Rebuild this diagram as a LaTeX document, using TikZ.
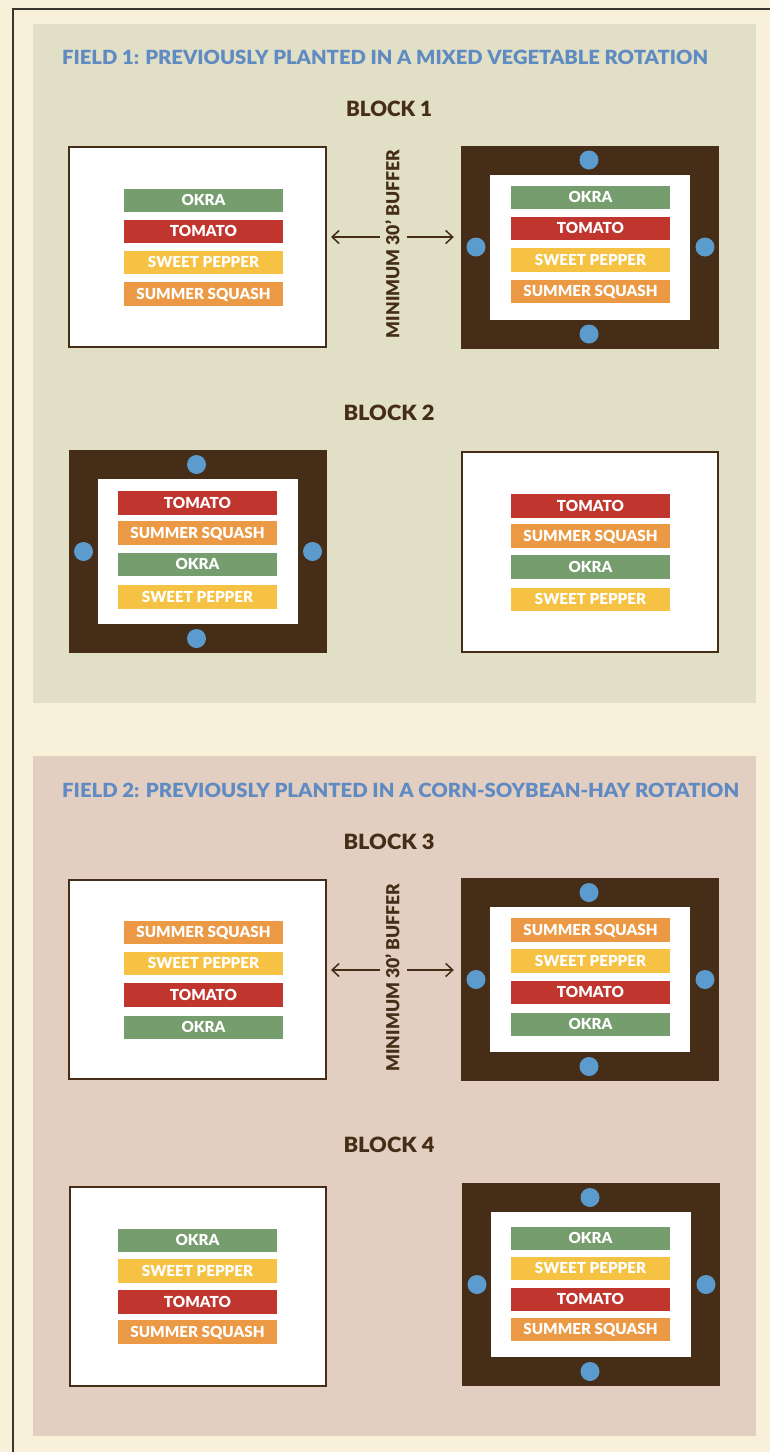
\documentclass[tikz,border=0pt]{standalone}
\usepackage{fontspec}
\setmainfont{Lato}
\newfontfamily\heavy{Lato Black}
\usetikzlibrary{arrows.meta,calc}
\definecolor{cream}{HTML}{F8F0D9}
\definecolor{fieldA}{HTML}{E1DFC6}
\definecolor{fieldB}{HTML}{E3CFC1}
\definecolor{brn}{HTML}{452D17}
\definecolor{okra}{HTML}{769D6E}
\definecolor{tom}{HTML}{C0362E}
\definecolor{pep}{HTML}{F5C243}
\definecolor{squ}{HTML}{EC9945}
\definecolor{dot}{HTML}{5B9BCE}
\definecolor{head}{HTML}{5F8AC2}
\definecolor{edge}{HTML}{3A3530}
\newcommand\tfbar{\heavy\fontsize{15.2pt}{15.2pt}\selectfont}
\newcommand\tfblock{\heavy\fontsize{21pt}{21pt}\selectfont}
\newcommand\tffield{\heavy\fontsize{19.5pt}{19.5pt}\selectfont}
\newcommand\tfbuf{\heavy\fontsize{18pt}{18pt}\selectfont}
\newsavebox\fitbox
\newlength\fitlen
\newcommand\fitto[2]{\sbox\fitbox{#2}\setlength\fitlen{\wd\fitbox}\pgfmathsetmacro\fitfac{#1/\fitlen}\scalebox{\fitfac}[1]{\usebox\fitbox}}
\newcommand\barstack[3]{\foreach \by/\bc/\bl [count=\bi] in {#3} {\node[bar, fill=\bc] (#1\bi) at (#2,\by) {\bl};}}
\newcommand\brownplot[3]{%
  \node[frame] (#1) at (#2,#3) {};
  \node[bed] (#1in) at (#2,#3) {};
  \node[sensor] (#1n) at ($(#1.center)+(-1,-87)$) {};
  \node[sensor] (#1s) at ($(#1.center)+(-1,87)$) {};
  \node[sensor] (#1w) at ($(#1.center)+(-114,0)$) {};
  \node[sensor] (#1e) at ($(#1.center)+(115,0)$) {};}
\begin{document}
\begin{tikzpicture}[x=1pt,y=-1pt,
  plainbox/.style={draw=brn, line width=2pt, fill=white, inner sep=0pt, outer sep=0pt, minimum width=257pt, minimum height=200pt},
  frame/.style={fill=brn, inner sep=0pt, minimum width=258pt, minimum height=203pt},
  bed/.style={fill=white, inner sep=0pt, minimum width=200pt, minimum height=145pt},
  bar/.style={minimum width=159pt, minimum height=23.5pt, inner sep=0pt, text=white, font=\tfbar, text height=10.9pt, text depth=0pt},
  sensor/.style={circle, fill=dot, minimum size=19pt, inner sep=0pt},
  blocklbl/.style={text=brn, font=\tfblock, inner sep=0pt, text height=15pt, text depth=0pt},
  fieldlbl/.style={text=head, font=\tffield, anchor=west, inner sep=0pt, text height=14pt, text depth=0pt},
  buflbl/.style={text=brn, font=\tfbuf, rotate=90, inner sep=0pt, text height=12.9pt, text depth=0pt},
  arr/.style={draw=brn, line width=1.5pt, -{Straight Barb[length=7pt,width=13pt]}},
  panel/.style={inner sep=0pt, minimum width=723pt}
]
\useasboundingbox (0,0) rectangle (770,1452);
\fill[cream] (0,0) rectangle (770,1452);
\draw[edge, line width=1.2pt] (772,9) -| (13,1454);
\node[panel, fill=fieldA, minimum height=679pt] (field1) at (394.5,363.5) {};
\node[panel, fill=fieldB, minimum height=680pt] (field2) at (394.5,1096) {};
% headings
\node[fieldlbl] (h1) at (62,57) {\fitto{646}{FIELD 1: PREVIOUSLY PLANTED IN A MIXED VEGETABLE ROTATION}};
\node[fieldlbl] (h2) at (62,790) {\fitto{677}{FIELD 2: PREVIOUSLY PLANTED IN A CORN-SOYBEAN-HAY ROTATION}};
\node[blocklbl] (k1) at (389,109) {\fitto{86}{BLOCK 1}};
\node[blocklbl] (k2) at (389,413) {\fitto{91}{BLOCK 2}};
\node[blocklbl] (k3) at (389,842) {\fitto{91}{BLOCK 3}};
\node[blocklbl] (k4) at (389,1145) {\fitto{91}{BLOCK 4}};
% Block 1
\node[plainbox] (p1L) at (197.5,247) {};
\barstack{p1Lb}{203.5}{200.5/okra/OKRA, 231.5/tom/TOMATO, 262.5/pep/SWEET PEPPER, 294/squ/SUMMER SQUASH}
\brownplot{p1R}{590}{247}
\barstack{p1Rb}{590.5}{197.5/okra/OKRA, 228.5/tom/TOMATO, 260/pep/SWEET PEPPER, 291.5/squ/SUMMER SQUASH}
\node[buflbl] (buf1) at (393,244) {\fitto{188}{MINIMUM 30’ BUFFER}};
\coordinate (a1l) at (380,237);
\coordinate (a1r) at (407,237);
\draw[arr, shorten >=5pt] (a1l) -- (a1l -| p1L.east);
\draw[arr, shorten >=7pt] (a1r) -- (a1r -| p1R.west);
% Block 2
\brownplot{p2L}{197.5}{551.5}
\barstack{p2Lb}{197.5}{503/tom/TOMATO, 533/squ/SUMMER SQUASH, 564.5/okra/OKRA, 597/pep/SWEET PEPPER}
\node[plainbox, minimum width=256pt] (p2R) at (590,552) {};
\barstack{p2Rb}{590.5}{506/tom/TOMATO, 536/squ/SUMMER SQUASH, 567/okra/OKRA, 599.5/pep/SWEET PEPPER}
% Block 3
\node[plainbox, minimum height=199pt] (p3L) at (197.5,979.5) {};
\barstack{p3Lb}{203.5}{932.5/squ/SUMMER SQUASH, 963.5/pep/SWEET PEPPER, 995/tom/TOMATO, 1027.5/okra/OKRA}
\brownplot{p3R}{590}{979.5}
\barstack{p3Rb}{590.5}{930/squ/SUMMER SQUASH, 961/pep/SWEET PEPPER, 992.5/tom/TOMATO, 1024.5/okra/OKRA}
\node[buflbl] (buf3) at (393,977.5) {\fitto{188}{MINIMUM 30’ BUFFER}};
\coordinate (a3l) at (380,970);
\coordinate (a3r) at (407,970);
\draw[arr, shorten >=5pt] (a3l) -- (a3l -| p3L.east);
\draw[arr, shorten >=7pt] (a3r) -- (a3r -| p3R.west);
% Block 4
\node[plainbox, minimum width=256pt, minimum height=199pt] (p4L) at (198,1286.5) {};
\barstack{p4Lb}{197.5}{1240.5/okra/OKRA, 1271/pep/SWEET PEPPER, 1302/tom/TOMATO, 1332/squ/SUMMER SQUASH}
\brownplot{p4R}{591}{1284.5}
\barstack{p4Rb}{590.5}{1238.5/okra/OKRA, 1268.5/pep/SWEET PEPPER, 1299.5/tom/TOMATO, 1329.5/squ/SUMMER SQUASH}
\end{tikzpicture}
\end{document}
